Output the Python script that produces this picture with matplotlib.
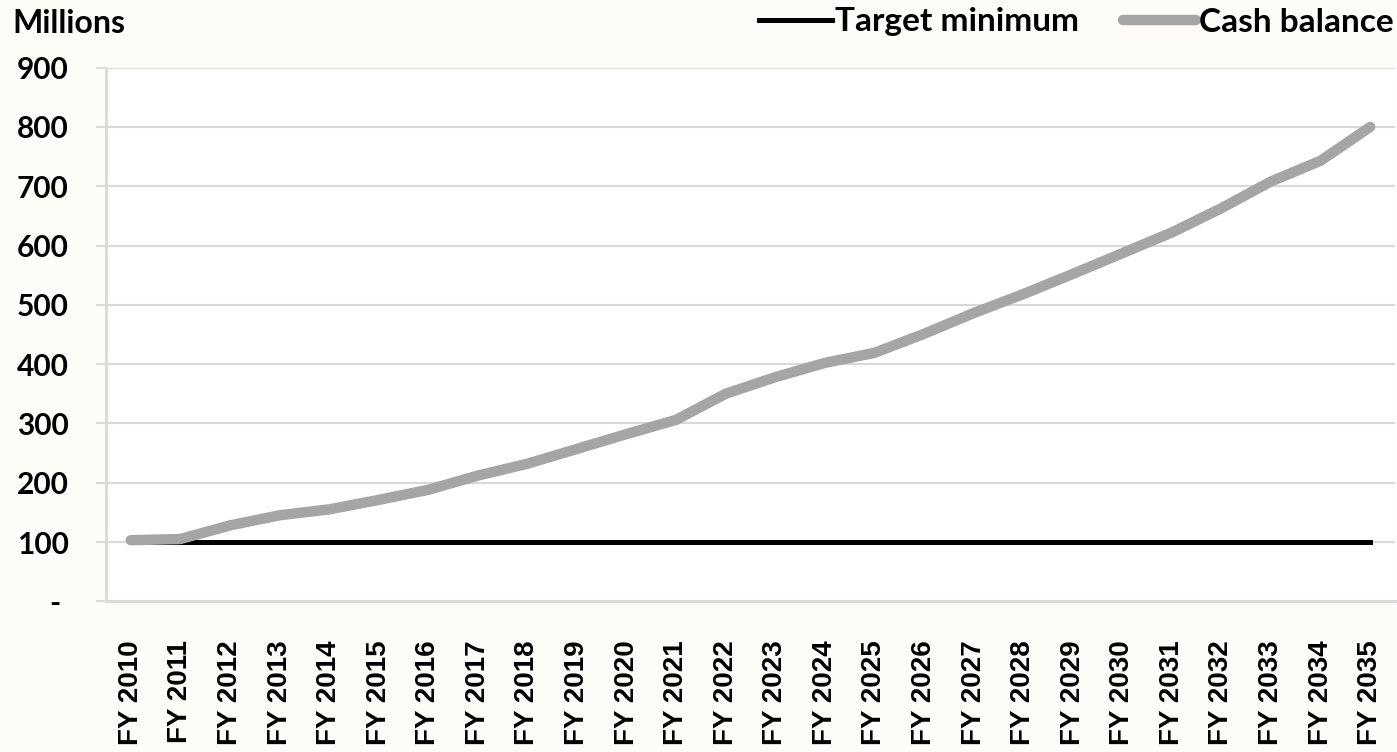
import matplotlib
matplotlib.use('Agg')
import matplotlib.pyplot as plt

years = ['FY %d' % y for y in range(2010, 2036)]
cash_balance = [103, 105, 128, 145, 155, 171, 188, 212, 232, 257, 282, 306, 350, 378, 402,
                419, 451, 486, 518, 552, 587, 622, 663, 708, 743, 800]
target_minimum = [100] * len(years)

y_ticks = [0, 100, 200, 300, 400, 500, 600, 700, 800, 900]
y_labels = ['- '] + [str(v) for v in y_ticks[1:]]

bg = '#fdfcf9'
grid_col = '#d9d9d9'

fig = plt.figure(figsize=(13.97, 7.52), dpi=100, facecolor=bg)
ax = fig.add_axes([106 / 1397, 1 - 601.3 / 752, (1395 - 106) / 1397, (601.3 - 67.6) / 752])
ax.set_facecolor('white')

x = list(range(len(years)))
ax.plot(x, target_minimum, color='black', linewidth=3.6, label='Target minimum', zorder=3)
ax.plot(x, cash_balance, color='#a5a5a5', linewidth=7.5, solid_capstyle='round',
        label='Cash balance', zorder=4)

ax.set_xlim(-0.5, len(years) - 0.5)
ax.set_ylim(0, 900)
ax.set_yticks(y_ticks)
ax.set_yticklabels(y_labels, fontfamily='Lato', fontweight='bold', fontsize=21.5)
ax.set_xticks(x)
ax.set_xticklabels(years, rotation=90, fontfamily='Liberation Sans', fontweight='bold', fontsize=20)

ax.grid(axis='y', color=grid_col, linewidth=1.5, zorder=0)
ax.set_axisbelow(True)
for side in ['top', 'right']:
    ax.spines[side].set_visible(False)
for side in ['left', 'bottom']:
    ax.spines[side].set_color(grid_col)
    ax.spines[side].set_linewidth(2)

ax.tick_params(axis='y', length=7, width=1.5, color=grid_col, pad=20)
ax.tick_params(axis='x', length=0, pad=28)

fig.text(12 / 1397, 1 - 9 / 752, 'Millions', ha='left', va='top',
         fontfamily='Lato', fontweight='bold', fontsize=23)

leg = fig.legend(loc='center right', bbox_to_anchor=(1394 / 1397, 1 - 22 / 752), ncol=2,
                 frameon=False, handlelength=2.2, handletextpad=0.1, columnspacing=1.3,
                 borderaxespad=0, borderpad=0, prop={'family': 'Lato', 'weight': 'bold', 'size': 24})

fig.savefig('out.png', dpi=100, facecolor=bg)
